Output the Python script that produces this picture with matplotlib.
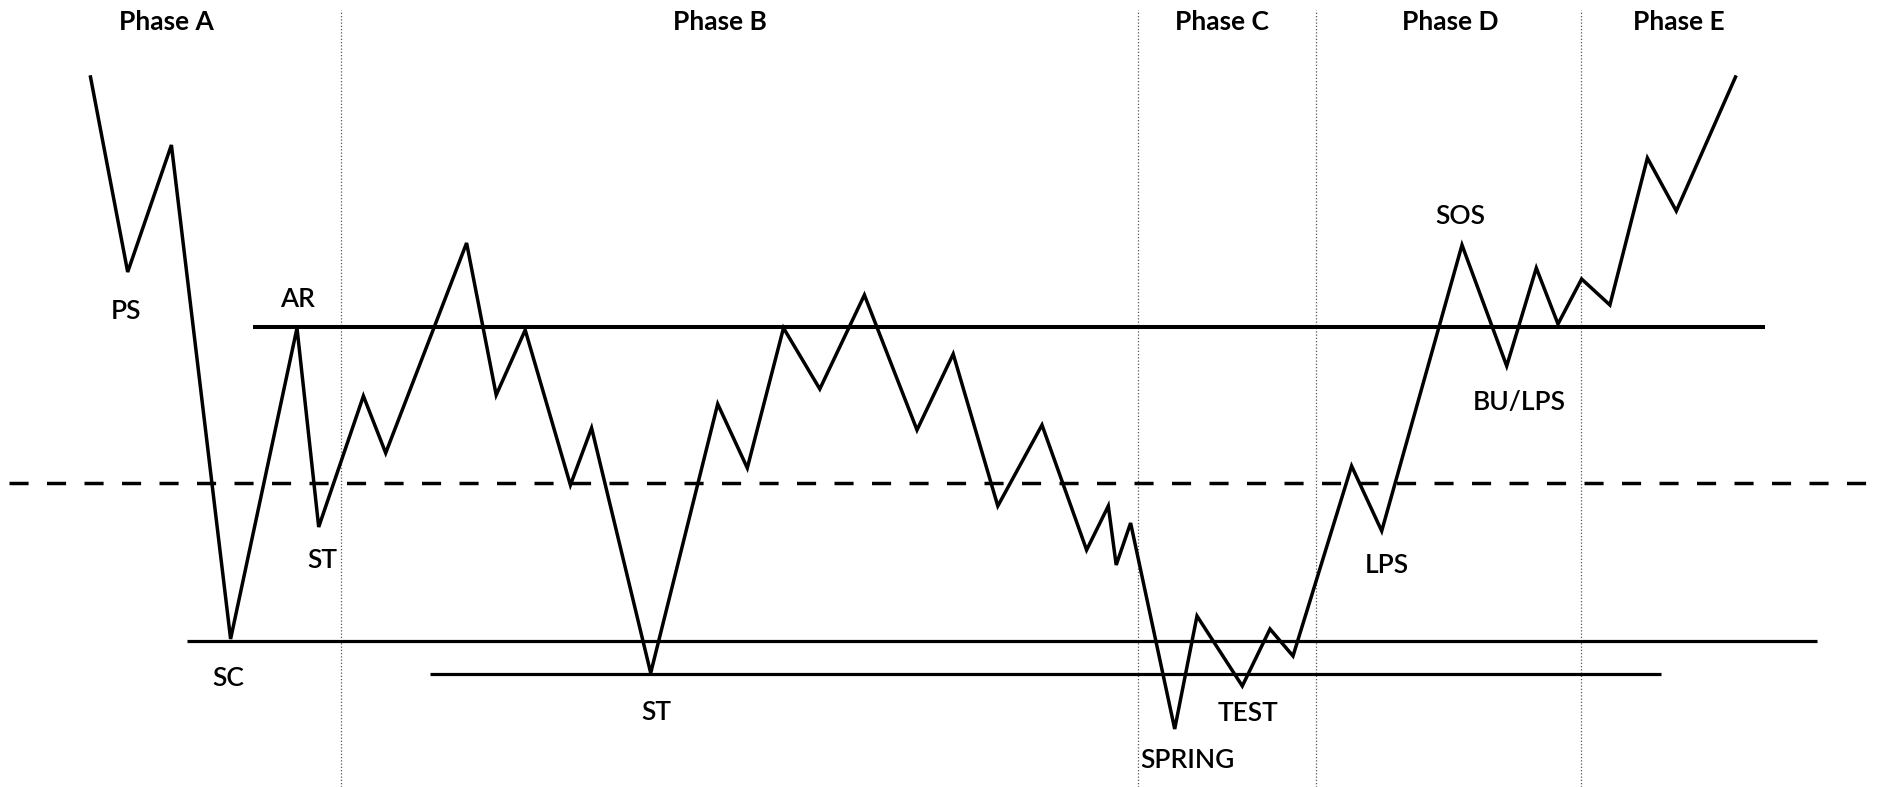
import numpy as np
import matplotlib
matplotlib.use('Agg')
import matplotlib.pyplot as plt

#--------------------------------------------
# Wyckoff accumulation schematic
# x = time position, y = price level
path_x = [90.5, 127.7, 171.4, 230.6, 297.0, 318.7, 363.4, 385.7, 466.6, 496.2,
          525.2, 570.4, 591.6, 650.7, 717.7, 747.3, 783.5, 819.8, 864.4, 917.0,
          953.2, 997.8, 1042.0, 1086.6, 1108.3, 1116.2, 1130.6, 1174.7, 1197.0, 1242.3,
          1270.0, 1293.0, 1351.6, 1381.7, 1462.0, 1506.7, 1536.3, 1558.0, 1581.6, 1609.9,
          1647.4, 1676.3, 1735.5]
path_y = [710, 515, 642, 148, 459, 260, 391, 334, 544, 392,
          457, 302, 359, 114, 383, 319, 459, 398, 492, 357,
          433, 281, 362, 237, 281, 222, 264, 58, 171, 101,
          158, 131, 321, 256, 542, 421, 519, 463, 508, 482,
          629, 576, 710]

# horizontal levels: (price, x start, x end)
ar_level = (460.5, 253, 1765)
sc_level = (146.3, 187, 1817)
st_level = (112.7, 430, 1661)
mid_level = (303.7, 9, 1876)

# phase boundaries and titles
phase_bounds = [341, 1138, 1316, 1581]
phase_names = ['Phase A', 'Phase B', 'Phase C', 'Phase D', 'Phase E']
phase_x = [166.5, 719.6, 1221.8, 1450.3, 1678.6]
phase_y = 765.3

# event labels
event_names = ['PS', 'AR', 'ST', 'SC', 'ST', 'SPRING', 'TEST', 'LPS', 'SOS', 'BU/LPS']
event_x = [125.7, 297.0, 322.0, 227.8, 656.0, 1187.8, 1248.4, 1386.6, 1460.7, 1519.0]
event_y = [475.3, 487.7, 226.3, 108.0, 74.3, 26.3, 73.5, 221.3, 570.3, 384.3]
#--------------------------------------------

W, H = 1893, 787
fig = plt.figure(figsize=(W / 100, H / 100), dpi=100)
ax = fig.add_axes([0, 0, 1, 1])
ax.set_xlim(0, W)
ax.set_ylim(0, H)
ax.axis('off')

plt.rcParams['font.family'] = ['Lato', 'DejaVu Sans']

# phase separators
for xb in phase_bounds:
    ax.plot([xb, xb], [0, H - 10], color='#555555', lw=0.9, ls=(0, (1, 1.6)))

# support / resistance
ax.plot([ar_level[1], ar_level[2]], [ar_level[0], ar_level[0]], color='black', lw=2.9,
        solid_capstyle='butt')
for lvl in [sc_level, st_level]:
    ax.plot([lvl[1], lvl[2]], [lvl[0], lvl[0]], color='black', lw=2.3, solid_capstyle='butt')
ax.plot([mid_level[1], mid_level[2]], [mid_level[0], mid_level[0]], color='black',
        lw=2.5, ls=(0, (5.5, 5.3)))

# price path
ax.plot(path_x, path_y, color='black', lw=2.5, solid_joinstyle='miter')

for name, xp in zip(phase_names, phase_x):
    ax.text(xp, phase_y, name, ha='center', va='center', fontsize=19, fontweight='bold')

for name, xp, yp in zip(event_names, event_x, event_y):
    ax.text(xp, yp, name, ha='center', va='center', fontsize=19, fontweight='semibold')

plt.savefig('out.png', dpi=100)
